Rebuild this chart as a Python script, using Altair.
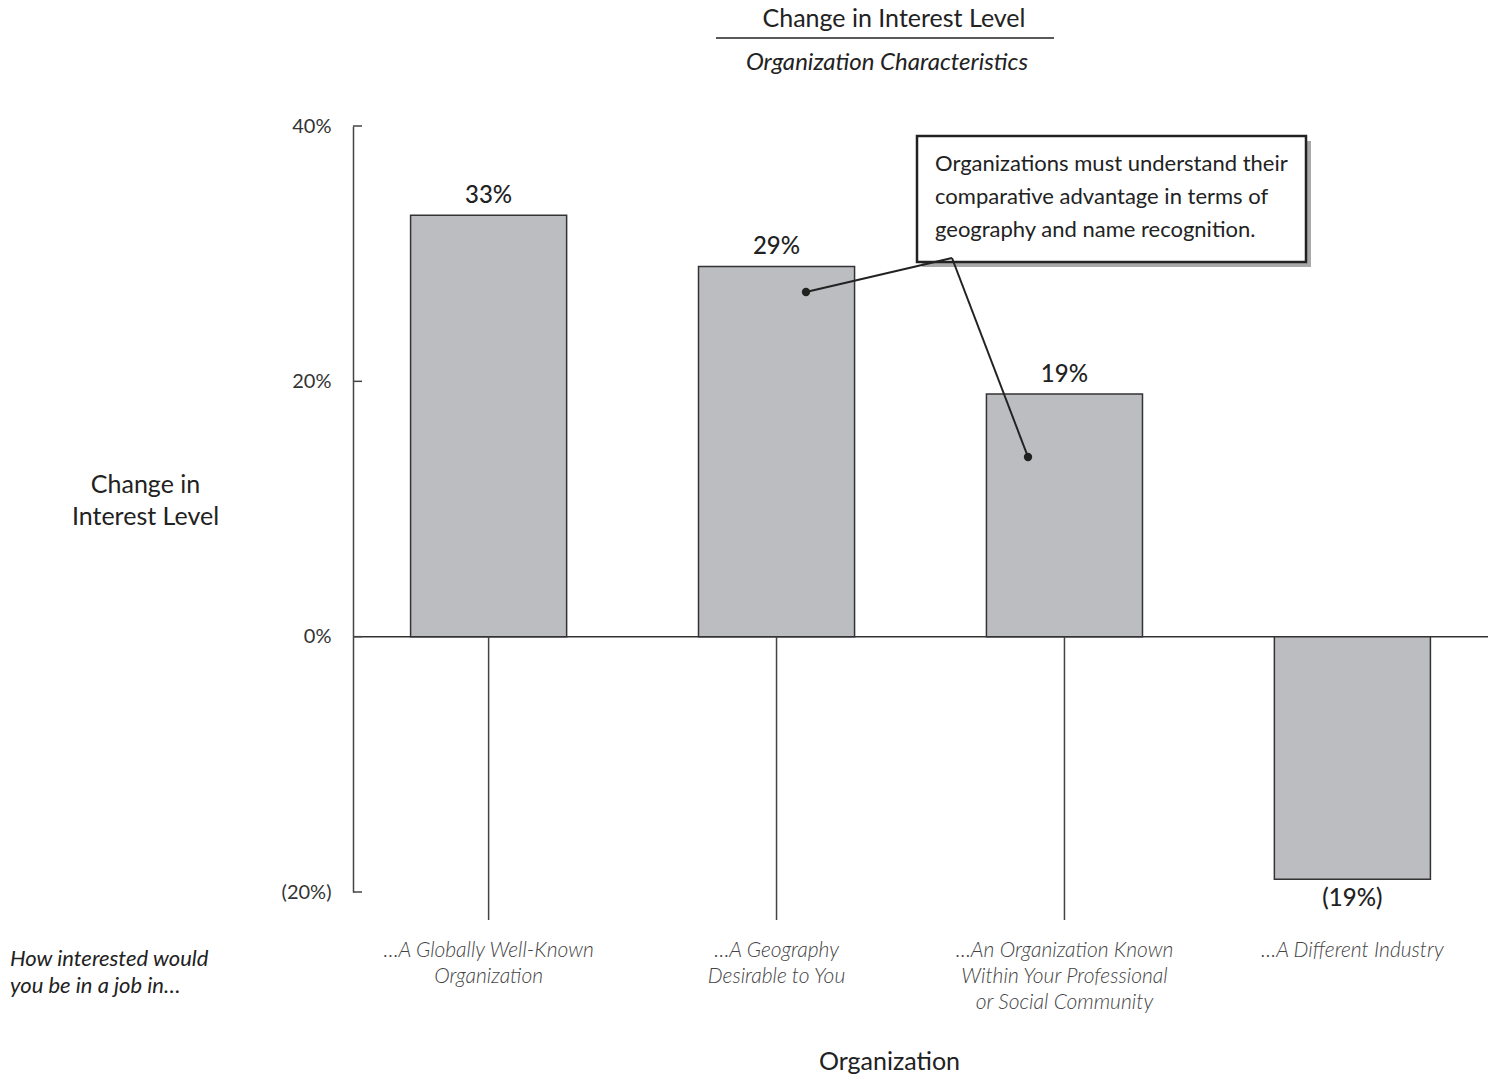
import altair as alt
import pandas as pd

# Survey results: change in interest level by organization characteristic
categories = [
    "…A Globally Well-Known|Organization",
    "…A Geography|Desirable to You",
    "…An Organization Known|Within Your Professional|or Social Community",
    "…A Different Industry",
]
changes = [33, 29, 19, -19]
y_ticks = [-20, 0, 20, 40]

title_text = "Change in Interest Level"
subtitle_text = "Organization Characteristics"
note = ("Organizations must understand their\n"
        "comparative advantage in terms of\n"
        "geography and name recognition.")
prompt_text = "How interested would\nyou be in a job in…"

FONT = "Lato"
INK = "#222222"

df = pd.DataFrame({"cat": categories, "change": changes})
df["label"] = [f"({abs(v)}%)" if v < 0 else f"{v}%" for v in changes]

W, H = 1135, 766

x_enc = alt.X(
    "cat:N",
    sort=categories,
    scale=alt.Scale(paddingInner=0.458, paddingOuter=0.2),
    axis=alt.Axis(
        title="Organization",
        domain=False,
        ticks=False,
        labelAngle=0,
        labelPadding=47,
        labelLimit=600,
        labelFontSize=21,
        labelFontStyle="italic",
        labelFontWeight=300,
        labelColor="#444444",
        labelLineHeight=26,
        labelExpr="split(datum.label, '|')",
        titleFontSize=25,
        titleFontWeight="normal",
        titleColor=INK,
        titleX=536,
        titleY=177,
        titleAlign="center",
        titleBaseline="alphabetic",
    ),
)
x_plain = alt.X("cat:N", sort=categories)

y_scale = alt.Scale(domain=[-20, 40], nice=False, zero=False)
y_enc = alt.Y(
    "change:Q",
    scale=y_scale,
    axis=alt.Axis(
        values=y_ticks,
        grid=False,
        ticks=False,
        domainColor="#444444",
        domainWidth=1.5,
        labelPadding=22,
        labelFontSize=20,
        labelFontWeight="normal",
        labelColor="#333333",
        labelExpr="datum.value < 0 ? '(' + abs(datum.value) + '%)' : datum.value + '%'",
        title=["Change in", "Interest Level"],
        titleAngle=0,
        titleAlign="center",
        titleBaseline="alphabetic",
        titleX=-208,
        titleY=366,
        titleFontSize=25,
        titleFontWeight="normal",
        titleColor=INK,
        titleLineHeight=32,
    ),
)

base = alt.Chart(df)

bars = base.mark_bar(fill="#bcbdc1", stroke="#333333", strokeWidth=1.5).encode(
    x=x_enc, y=y_enc, y2=alt.datum(0)
)

# thin drop lines from the baseline under the positive bars
drops = base.transform_filter("datum.change > 0").mark_rule(
    color="#444444", strokeWidth=1.5
).encode(x=x_plain, y=alt.datum(0, scale=y_scale), y2=alt.value(794))

zero_line = alt.Chart(pd.DataFrame({"z": [0]})).mark_rule(
    color="#333333", strokeWidth=1.5
).encode(y=alt.Y("z:Q", scale=y_scale))

tick_marks = alt.Chart(pd.DataFrame({"t": y_ticks})).mark_rule(
    color="#444444", strokeWidth=1.5
).encode(y=alt.Y("t:Q", scale=y_scale), x=alt.value(0), x2=alt.value(9))

pos_labels = base.transform_filter("datum.change >= 0").mark_text(
    baseline="bottom", dy=-7, fontSize=24, fontWeight=500, color=INK
).encode(x=x_plain, y=alt.Y("change:Q", scale=y_scale), text="label:N")

neg_labels = base.transform_filter("datum.change < 0").mark_text(
    baseline="top", dy=8, fontSize=24, fontWeight=500, color=INK
).encode(x=x_plain, y=alt.Y("change:Q", scale=y_scale), text="label:N")

one = pd.DataFrame({
    "note": [note], "prompt": [prompt_text],
    "title": [title_text], "subtitle": [subtitle_text],
})

# heading above the plot, with a rule between title and subtitle
heading = alt.Chart(one).mark_text(
    align="center", baseline="alphabetic", fontSize=25, color=INK
).encode(x=alt.value(541), y=alt.value(-99), text="title:N")
subheading = alt.Chart(one).mark_text(
    align="center", baseline="alphabetic", fontSize=24, fontStyle="italic", color=INK
).encode(x=alt.value(534), y=alt.value(-56), text="subtitle:N")
title_rule = alt.Chart(one).mark_rule(color=INK, strokeWidth=1.5).encode(
    x=alt.value(363), x2=alt.value(701), y=alt.value(-88), y2=alt.value(-88)
)

# callout box with drop shadow
shadow = alt.Chart(one).mark_rect(fill="#a8a8a8").encode(
    x=alt.value(569), x2=alt.value(958), y=alt.value(15), y2=alt.value(141)
)
box = alt.Chart(one).mark_rect(fill="white", stroke=INK, strokeWidth=2.5).encode(
    x=alt.value(564), x2=alt.value(953), y=alt.value(10), y2=alt.value(136)
)
note_text = alt.Chart(one).mark_text(
    align="left", baseline="alphabetic", lineBreak="\n", lineHeight=33,
    fontSize=22, color=INK
).encode(x=alt.value(582), y=alt.value(45), text="note:N")

leader1 = alt.Chart(one).mark_rule(color=INK, strokeWidth=2).encode(
    x=alt.value(599), y=alt.value(132), x2=alt.value(453), y2=alt.value(166)
)
leader2 = alt.Chart(one).mark_rule(color=INK, strokeWidth=2).encode(
    x=alt.value(599), y=alt.value(132), x2=alt.value(675), y2=alt.value(331)
)
dots = alt.Chart(pd.DataFrame({"px": [453, 675], "py": [166, 331]})).mark_circle(
    color=INK, opacity=1, size=70
).encode(x=alt.X("px:Q", scale=None), y=alt.Y("py:Q", scale=None))

prompt = alt.Chart(one).mark_text(
    align="left", baseline="alphabetic", lineBreak="\n", lineHeight=27,
    fontSize=22, fontStyle="italic", color=INK
).encode(x=alt.value(-343), y=alt.value(840), text="prompt:N")

chart = alt.layer(
    zero_line, bars, drops, tick_marks, pos_labels, neg_labels,
    heading, subheading, title_rule,
    shadow, box, note_text, leader1, leader2, dots, prompt,
).properties(
    width=W,
    height=H,
    autosize=alt.AutoSizeParams(type="none"),
    padding={"left": 353, "top": 126, "right": 0, "bottom": 185},
).configure(
    font=FONT,
).configure_view(stroke=None)

chart.save("out.html", embed_options={"renderer": "svg", "actions": False})
